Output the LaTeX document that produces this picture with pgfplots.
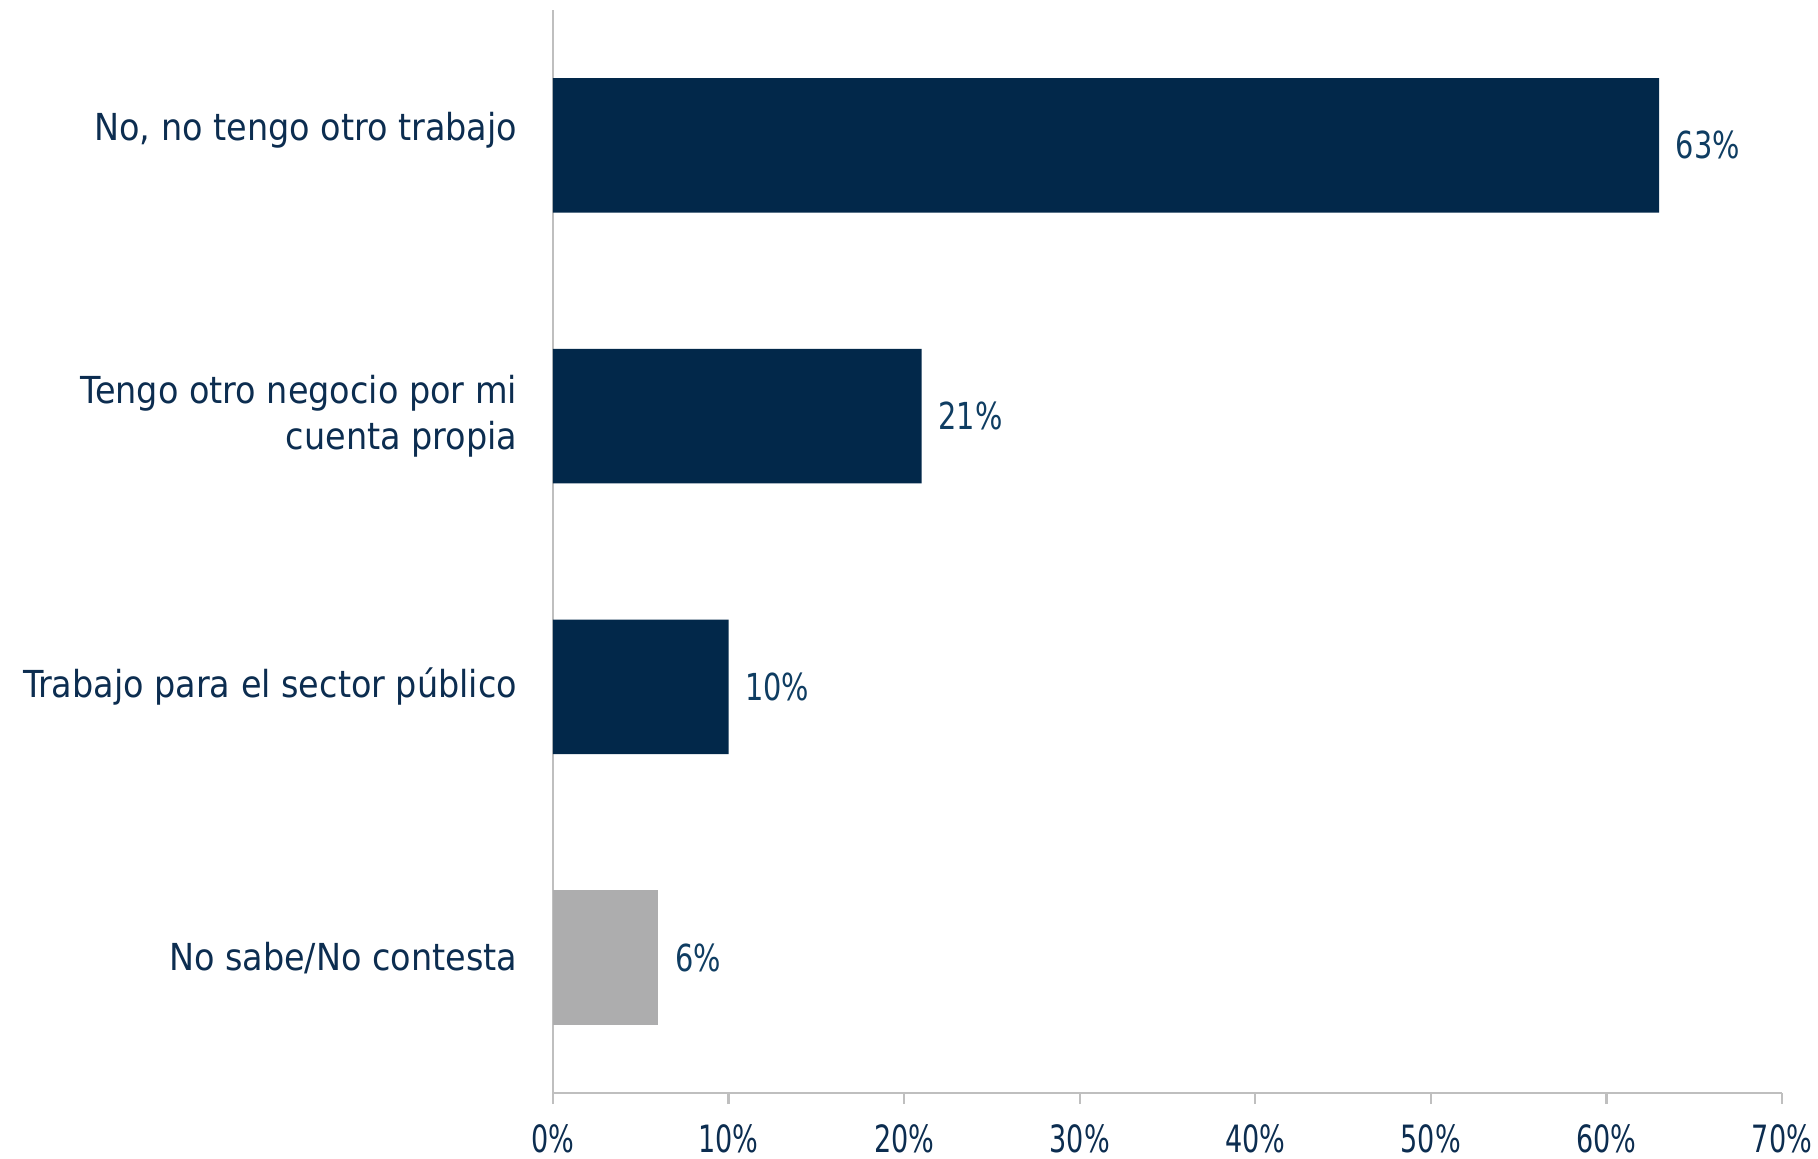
\documentclass[border=0pt]{standalone}
\usepackage{pgfplots}
\pgfplotsset{compat=1.18}
\usepackage{fontspec}
\setmainfont{DejaVu Sans Condensed}
\definecolor{barblue}{HTML}{02284A}
\definecolor{bargray}{HTML}{ADADAE}
\definecolor{txtblue}{HTML}{0C2D50}
\definecolor{lblblue}{HTML}{0F3D62}
\definecolor{axgray}{HTML}{BFBFBF}
\begin{document}
\begin{tikzpicture}
\useasboundingbox (-138.25pt,-16.25pt) rectangle (316.25pt,273.25pt);
\begin{axis}[
  at={(0,0)}, anchor=south west,
  scale only axis,
  width=307.25pt, height=270.75pt,
  /pgf/number format/assume math mode=true,
  xbar, bar width=33.6pt, bar shift=0pt,
  xmin=0, xmax=70,
  ymin=-0.5, ymax=3.5, y dir=reverse,
  axis x line=bottom, axis y line=left,
  axis line style={draw=axgray, line width=0.6pt, -},
  xtick={0,10,...,70},
  xticklabel={\scalebox{0.8}[1]{\pgfmathprintnumber{\tick}\%}},
  xtick style={draw=axgray, line width=0.6pt},
  tick align=outside, major tick length=2.75pt,
  xticklabel style={anchor=north, inner sep=0pt, font=\fontsize{9.4}{11}\selectfont, text=txtblue},
  xticklabel shift=5pt,
  ytick={0,1,2,3},
  yticklabels={{\raisebox{3.8pt}[\height][\depth]{No, no tengo otro trabajo}},{Tengo otro negocio por mi\\cuenta propia},{Trabajo para el sector público},{No sabe/No contesta}},
  ytick style={draw=none},
  yticklabel style={anchor=east, inner sep=0pt, align=right, font=\fontsize{9.3}{11.3}\selectfont, text=txtblue},
  yticklabel shift=6pt,
  nodes near coords={\scalebox{0.86}[1]{\pgfmathprintnumber{\pgfplotspointmeta}\%}},
  nodes near coords style={anchor=west, inner sep=0pt, xshift=4pt, font=\fontsize{9.3}{11}\selectfont, text=lblblue},
  clip=false,
]
\addplot[fill=barblue, draw=none] coordinates {(63,0) (21,1) (10,2)};
\addplot[fill=bargray, draw=none] coordinates {(6,3)};
\end{axis}
\end{tikzpicture}
\end{document}
